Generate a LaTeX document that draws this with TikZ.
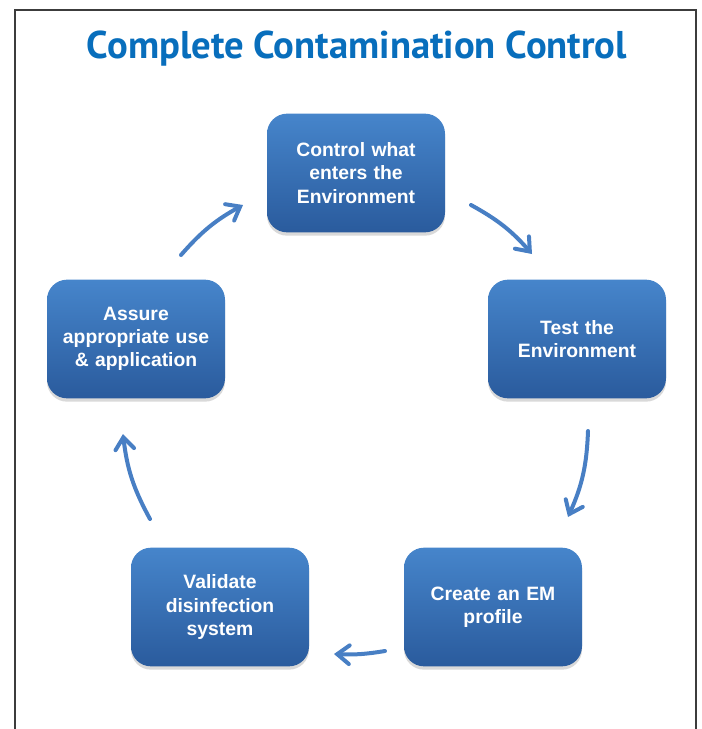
\documentclass[tikz,border=0pt]{standalone}
\usepackage{fontspec}
\setmainfont{Liberation Sans}
\newfontfamily\titlefont{PT Sans}
\usepackage{xcolor}
\usetikzlibrary{arrows.meta, shadows}

\definecolor{titleblue}{RGB}{8,110,188}
\definecolor{boxtop}{RGB}{70,133,203}
\definecolor{boxbot}{RGB}{42,91,157}
\definecolor{arrowblue}{RGB}{72,127,196}
\definecolor{framegray}{RGB}{60,60,60}

\tikzset{
  stage/.style={rounded corners=15pt, top color=boxtop, bottom color=boxbot,
    minimum width=133.5pt, minimum height=89pt, text width=120pt, align=center,
    text=white, font=\fontsize{14.5}{17.5}\selectfont\bfseries,
    drop shadow={shadow xshift=0pt, shadow yshift=-2.5pt, opacity=0.3}},
  cycle/.style={arrowblue, line width=3pt, line cap=round,
    -{Straight Barb[length=9pt, width=14pt, line cap=round]}}
}

\begin{document}
\begin{tikzpicture}[x=0.75pt, y=-0.75pt]
      \useasboundingbox (0,0) rectangle (702,729);

      % frame
      \draw[framegray, line width=1.5pt] (15,729) -- (15,10) -- (696,10) -- (696,729);

      \node[anchor=base, text=titleblue, font=\titlefont\fontsize{29}{35}\selectfont\bfseries]
        (title) at (357,58) {Complete Contamination Control};

      % Stages
      \node[stage] (control) at (356,173) {Control what\\enters the\\Environment};
      \node[stage] (test) at (577,339) {Test the\\Environment};
      \node[stage] (profile) at (493,607) {Create an EM\\profile};
      \node[stage] (validate) at (220,607) {Validate\\disinfection\\system};
      \node[stage] (assure) at (136,339) {Assure\\appropriate use\\\& application};

      % arrow ends
      \coordinate (c1) at (471,205); \coordinate (t1) at (532,254);
      \coordinate (c2) at (588,431); \coordinate (t2) at (568,517);
      \coordinate (c3) at (385,651); \coordinate (t3) at (334,654);
      \coordinate (c4) at (150,519); \coordinate (t4) at (123,434);
      \coordinate (c5) at (181,255); \coordinate (t5) at (243,205);

      % Arrows
      \draw[cycle] (c1) to[bend left=10] (t1);
      \draw[cycle] (c2) to[bend left=11] (t2);
      \draw[cycle] (c3) to[bend left=6] (t3);
      \draw[cycle] (c4) to[bend left=11] (t4);
      \draw[cycle] (c5) to[bend left=10] (t5);
    \end{tikzpicture}
\end{document}
